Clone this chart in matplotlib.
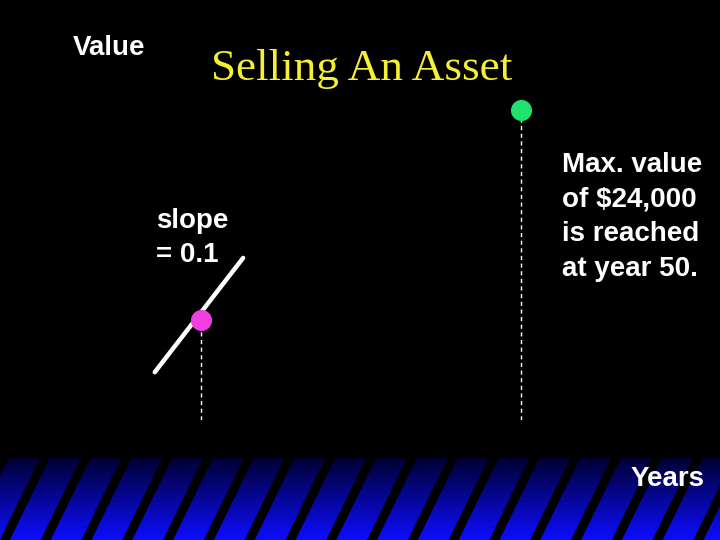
import numpy as np
import matplotlib
matplotlib.use("Agg")
from matplotlib import pyplot as plt
from matplotlib.patches import Polygon

# data (years, value in $)
point_years = [12, 50]
point_values = [7750, 24000]
point_colors = ['#f03ee0', '#1ee36c']
tangent_years = [6.5, 17]
tangent_values = [3700, 12550]
max_label = 'Max. value\nof $24,000\nis reached\nat year 50.'
slope_label = 'slope\n= 0.1'

W, H = 720, 540
fig = plt.figure(figsize=(7.2, 5.4), dpi=100, facecolor='black')

# background strip with blue gradient + black diagonal stripes
bg = fig.add_axes([0, 0, 1, 1])
bg.set_xlim(0, W)
bg.set_ylim(H, 0)
bg.axis('off')
bg.set_facecolor('black')
grad = np.linspace(0, 1, 100).reshape(-1, 1)
cols = np.zeros((100, 1, 3))
cols[:, 0, 0] = 0.05 * grad[:, 0]
cols[:, 0, 1] = 0.05 * grad[:, 0]
cols[:, 0, 2] = 0.2 + 0.8 * grad[:, 0]
bg.imshow(cols, extent=[0, W, H, 458], aspect='auto', interpolation='bilinear')
for x0 in np.arange(-41, W + 41, 40.8):
    bg.add_patch(Polygon([(x0, H), (x0 + 10, H), (x0 + 50, 458), (x0 + 40, 458)],
                         closed=True, color='black', lw=0))
bg.set_xlim(0, W)
bg.set_ylim(H, 0)

# main axes, years vs value
ax = fig.add_axes([100 / W, 120 / H, 606.24 / W, 387.5 / H])
ax.set_xlim(0, 72)
ax.set_ylim(0, 30000)
ax.axis('off')
ax.patch.set_alpha(0)

ax.plot(tangent_years, tangent_values, color='white', lw=3.2, solid_capstyle='round')
for yr, val, c in zip(point_years, point_values, point_colors):
    ax.plot([yr, yr], [0, val], color='white', lw=1, ls=(0, (3, 2.5)))
    ax.scatter([yr], [val], s=230, color=c, zorder=5, linewidths=0)

txt = dict(color='white', fontsize=20, fontweight='bold', family='Liberation Sans')
fig.text(73 / W, 1 - 48 / H, 'Value', ha='left', va='center', **txt)
fig.text(211 / W, 1 - 80 / H, 'Selling An Asset', ha='left', va='baseline',
         color='#f5f032', fontsize=32.5, family='Liberation Serif')
fig.text(156 / W, 1 - 238 / H, slope_label, ha='left', va='center',
         multialignment='left', linespacing=1.42, **txt)
fig.text(562 / W, 1 - 217 / H, max_label, ha='left', va='center',
         multialignment='left', linespacing=1.42, **txt)
fig.text(631 / W, 1 - 479 / H, 'Years', ha='left', va='center', **txt)

fig.savefig('out.png', dpi=100, facecolor='black')
